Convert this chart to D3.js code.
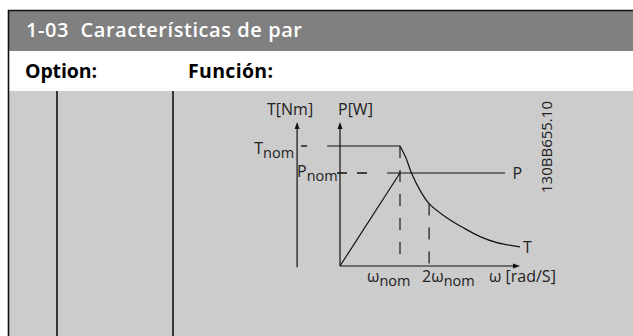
<!DOCTYPE html>
<html>
<head>
<meta charset="utf-8">
<script src="https://cdn.jsdelivr.net/npm/d3@7"></script>
<style>
  body { margin: 0; background: #fff; }
  svg { display: block; font-family: "Open Sans", sans-serif; }
</style>
</head>
<body>
<svg id="chart" width="633" height="336"></svg>
<script>
// table text
const title = "1-03\u00a0\u00a0Características de par";
const colHeads = ["Option:", "Función:"];

// curve data (schematic units: omega, per-unit of T/P)
const omegaNom = 2.0;
const omega2Nom = 2.97;
const tNom = 1.0;
const pNom = 0.775;
const tAxisOmega = -1.43;
const torqueFlat = [[-0.43, tNom], [omegaNom, tNom]];
const torqueFalling = [[2.0, 1.0], [2.2, 0.9], [2.39, 0.77], [2.67, 0.63], [2.97, 0.52], [3.57, 0.40],
                       [4.1, 0.32], [4.67, 0.245], [5.23, 0.195], [6.0, 0.16]];
const powerRamp = [[0, 0], [omegaNom, pNom]];
const powerFlat = [[1.57, pNom], [5.5, pNom]];
const figCode = "130BB655.10";

let svg = d3.select("#chart");

// table frame
svg.append("rect").attr("x", 8).attr("y", 10).attr("width", 625).attr("height", 41).attr("fill", "#808080");
svg.append("rect").attr("x", 8).attr("y", 91).attr("width", 625).attr("height", 245).attr("fill", "#cccccc");
svg.append("line").attr("x1", 8).attr("x2", 633).attr("y1", 10.5).attr("y2", 10.5)
	.attr("stroke", "#111").attr("stroke-width", 1.5);
svg.append("line").attr("x1", 8.5).attr("x2", 8.5).attr("y1", 10).attr("y2", 336)
	.attr("stroke", "#111").attr("stroke-width", 1.6);
[57, 173].forEach(function(x){
	svg.append("line").attr("x1", x).attr("x2", x).attr("y1", 91).attr("y2", 336)
		.attr("stroke", "#111").attr("stroke-width", 1.6);
});

svg.append("text").attr("x", 26).attr("y", 37).attr("fill", "#fff")
	.attr("textLength", 276).attr("lengthAdjust", "spacing")
	.style("font-size", "20px").style("font-weight", 600).text(title);
svg.append("text").attr("x", 25).attr("y", 78).attr("fill", "#000")
	.attr("textLength", 72).attr("lengthAdjust", "spacing")
	.style("font-size", "19.5px").style("font-weight", 700).text(colHeads[0]);
svg.append("text").attr("x", 188).attr("y", 78).attr("fill", "#000")
	.attr("textLength", 85).attr("lengthAdjust", "spacing")
	.style("font-size", "19.5px").style("font-weight", 700).text(colHeads[1]);

// diagram
let xScale = d3.scaleLinear().domain([0, 6]).range([340, 520]);
let yScale = d3.scaleLinear().domain([0, 1.2]).range([266, 122]);

const g = svg.append("g").attr("fill", "none").attr("stroke", "#111").attr("stroke-width", 1.2);

const line = d3.line().x(d => xScale(d[0])).y(d => yScale(d[1]));

// axes
let xT = xScale(tAxisOmega);
g.append("line").attr("x1", xT).attr("x2", xT).attr("y1", yScale(1.17)).attr("y2", yScale(-0.01));
g.append("line").attr("x1", xScale(0)).attr("x2", xScale(0)).attr("y1", yScale(1.17)).attr("y2", yScale(0));
g.append("line").attr("x1", xScale(0)).attr("x2", xScale(5.9)).attr("y1", yScale(0)).attr("y2", yScale(0));

function arrow(x, y, dir){
	let p = dir == "up"
		? [[x, y], [x - 2.5, y + 7], [x + 2.5, y + 7]]
		: [[x, y], [x - 7, y - 2.5], [x - 7, y + 2.5]];
	svg.append("path").attr("d", "M" + p.join("L") + "Z").attr("fill", "#111");
}
arrow(xT, yScale(1.2), "up");
arrow(xScale(0), yScale(1.2), "up");
arrow(xScale(6.0), yScale(0), "right");

// dashed guides
g.append("line").attr("x1", xT + 4).attr("x2", xScale(-0.9)).attr("y1", yScale(tNom)).attr("y2", yScale(tNom))
	.attr("stroke-dasharray", "6,20").attr("stroke-width", 1.4);
g.append("line").attr("x1", xScale(-0.1)).attr("x2", xScale(1.0)).attr("y1", yScale(pNom)).attr("y2", yScale(pNom))
	.attr("stroke-dasharray", "10,10").attr("stroke-width", 1.4);
g.append("line").attr("x1", xScale(omegaNom)).attr("x2", xScale(omegaNom)).attr("y1", yScale(tNom)).attr("y2", yScale(0))
	.attr("stroke-dasharray", "12,12").attr("stroke-width", 1.4).attr("stroke", "#333");
g.append("line").attr("x1", xScale(omega2Nom)).attr("x2", xScale(omega2Nom)).attr("y1", yScale(0.52)).attr("y2", yScale(0))
	.attr("stroke-dasharray", "12,12").attr("stroke-width", 1.4).attr("stroke", "#333");

// curves
g.append("path").attr("d", line(torqueFlat));
g.append("path").attr("d", line.curve(d3.curveCatmullRom.alpha(0.5))(torqueFalling));
line.curve(d3.curveLinear);
g.append("path").attr("d", line(powerRamp));
g.append("path").attr("d", line(powerFlat));

// labels
const lab = svg.append("g").attr("fill", "#222").style("font-size", "16px");
function sub(x, y, main, s, anchor){
	let t = lab.append("text").attr("x", x).attr("y", y).attr("text-anchor", anchor || "start");
	t.append("tspan").text(main);
	t.append("tspan").attr("dy", 4).style("font-size", "14.5px").text(s);
	return t;
}
lab.append("text").attr("x", xT - 7).attr("y", 115).attr("text-anchor", "middle").text("T[Nm]");
lab.append("text").attr("x", xScale(0) - 2).attr("y", 115).text("P[W]");
sub(xT - 3, yScale(tNom) + 8, "T", "nom", "end");
sub(xScale(0) - 43, yScale(pNom) + 4, "P", "nom");
lab.append("text").attr("x", xScale(5.75)).attr("y", yScale(pNom) + 6).text("P");
lab.append("text").attr("x", xScale(6.1)).attr("y", yScale(0.16) + 6).text("T");
sub(xScale(omegaNom) - 33, 282, "ω", "nom");
sub(xScale(omega2Nom) - 7, 282, "2ω", "nom");
lab.append("text").attr("x", 489).attr("y", 282).text("ω [rad/S]");
lab.append("text").attr("transform", "translate(552,147) rotate(-90)").attr("text-anchor", "middle")
	.style("font-size", "15px").text(figCode);
</script>
</body>
</html>
